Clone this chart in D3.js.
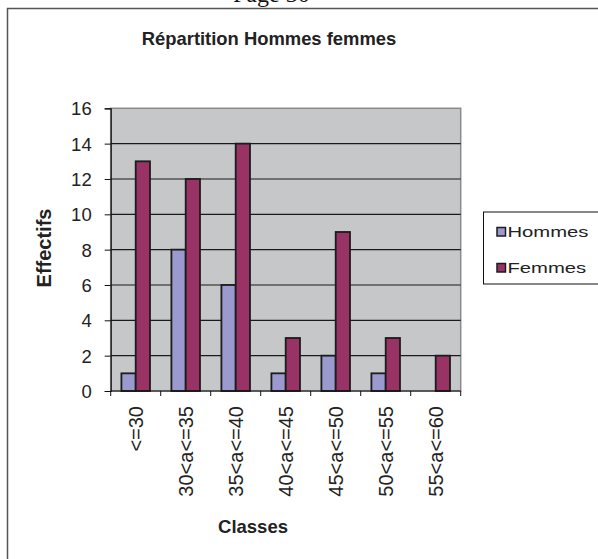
<!DOCTYPE html>
<html>
<head>
<meta charset="utf-8">
<script src="https://cdn.jsdelivr.net/npm/d3@7"></script>
<style>
  body { margin: 0; background: white; }
  svg { display: block; font-family: Arial, "Liberation Sans", sans-serif; }
</style>
</head>
<body>
<div id="chart"></div>
<script>
let classes = ["<=30", "30<a<=35", "35<a<=40", "40<a<=45", "45<a<=50", "50<a<=55", "55<a<=60"];
let seriesNames = ["Hommes", "Femmes"];
let hommes = [1, 8, 6, 1, 2, 1, 0];
let femmes = [13, 12, 14, 3, 9, 3, 2];
let yTicks = [0, 2, 4, 6, 8, 10, 12, 14, 16];
let seriesColors = ["#9a9acf", "#993366"];

function drawChart() {
  let plot = {left: 110.7, right: 460.7, top: 108.3, bottom: 391};

  let svg = d3.select("#chart")
    .append("svg")
    .attr("width", 598)
    .attr("height", 559);

  // page header, cut off at the top like in the scan
  svg.append("text")
    .attr("x", 233)
    .attr("y", 2)
    .attr("font-family", "'Liberation Serif', 'Times New Roman', serif")
    .attr("font-size", 24)
    .attr("fill", "#111")
    .text("Page 30");

  // chart frame
  svg.append("rect")
    .attr("x", 7.5).attr("y", 8.5)
    .attr("width", 700).attr("height", 700)
    .attr("fill", "white")
    .attr("stroke", "#555")
    .attr("stroke-width", 1.5);

  svg.append("text")
    .attr("x", 269)
    .attr("y", 45)
    .attr("text-anchor", "middle")
    .attr("font-size", 18.4)
    .attr("font-weight", "bold")
    .attr("fill", "#222")
    .text("Répartition Hommes femmes");

  let xScale = d3.scaleBand()
    .domain(classes)
    .range([plot.left, plot.right])
    .padding(0);

  let xInner = d3.scaleBand()
    .domain(seriesNames)
    .range([0, xScale.bandwidth()])
    .paddingInner(0)
    .paddingOuter(0.75);

  let yScale = d3.scaleLinear()
    .domain([0, 16])
    .range([plot.bottom, plot.top]);

  let colorScale = d3.scaleOrdinal()
    .domain(seriesNames)
    .range(seriesColors);

  // plot area
  svg.append("rect")
    .attr("x", plot.left).attr("y", plot.top)
    .attr("width", plot.right - plot.left)
    .attr("height", plot.bottom - plot.top)
    .attr("fill", "#c6c7c9")
    .attr("stroke", "#8a8a8a")
    .attr("stroke-width", 1.5);

  svg.append("g")
    .selectAll("line")
    .data(yTicks.filter(t => t > 0 && t < 16))
    .enter()
    .append("line")
    .attr("x1", plot.left).attr("x2", plot.right)
    .attr("y1", d => yScale(d)).attr("y2", d => yScale(d))
    .attr("stroke", "#1a1a1a")
    .attr("stroke-width", 1.2);

  let tableData = classes.map((c, i) => ({classe: c, values: [hommes[i], femmes[i]]}));

  let groups = svg.append("g")
    .selectAll("g")
    .data(tableData)
    .enter()
    .append("g")
    .attr("transform", d => "translate(" + xScale(d.classe) + ",0)");

  groups.selectAll("rect")
    .data(d => d.values.map((v, i) => ({name: seriesNames[i], value: v})).filter(d => d.value > 0))
    .enter()
    .append("rect")
    .attr("x", d => xInner(d.name))
    .attr("y", d => yScale(d.value))
    .attr("width", xInner.bandwidth())
    .attr("height", d => yScale(0) - yScale(d.value))
    .attr("fill", d => colorScale(d.name))
    .attr("stroke", "#1c1c1c")
    .attr("stroke-width", 1.8);

  // y axis
  let yAxis = svg.append("g")
    .attr("transform", "translate(" + plot.left + ",0)")
    .call(d3.axisLeft(yScale).tickValues(yTicks).tickSize(6).tickPadding(13));
  yAxis.select(".domain").attr("stroke", "#111").attr("stroke-width", 1.2);
  yAxis.selectAll(".tick line").attr("stroke", "#111");
  yAxis.selectAll(".tick text")
    .attr("font-size", 18.5)
    .attr("font-family", "Arial, 'Liberation Sans', sans-serif")
    .attr("fill", "#222")
    .attr("dy", "0.36em");

  // x axis: ticks at category boundaries
  let xAxis = svg.append("g")
    .attr("transform", "translate(0," + plot.bottom + ")");
  xAxis.append("line")
    .attr("x1", plot.left).attr("x2", plot.right)
    .attr("stroke", "#111").attr("stroke-width", 1.2);
  xAxis.selectAll(".bound")
    .data(classes.concat(["end"]))
    .enter()
    .append("line")
    .attr("class", "bound")
    .attr("x1", (d, i) => plot.left + i * xScale.step())
    .attr("x2", (d, i) => plot.left + i * xScale.step())
    .attr("y1", 0).attr("y2", 5)
    .attr("stroke", "#111");
  xAxis.selectAll("text")
    .data(classes)
    .enter()
    .append("text")
    .attr("transform", d => "translate(" + (xScale(d) + xScale.bandwidth() / 2) + ",15) rotate(-90)")
    .attr("text-anchor", "end")
    .attr("dy", "0.35em")
    .attr("font-size", 20)
    .attr("fill", "#222")
    .text(d => d);

  // axis titles
  svg.append("text")
    .attr("transform", "translate(51,248) rotate(-90)")
    .attr("text-anchor", "middle")
    .attr("font-size", 20)
    .attr("font-weight", "bold")
    .attr("fill", "#222")
    .text("Effectifs");

  svg.append("text")
    .attr("x", 253)
    .attr("y", 533)
    .attr("text-anchor", "middle")
    .attr("font-size", 18.5)
    .attr("font-weight", "bold")
    .attr("fill", "#222")
    .text("Classes");

  // legend
  let legend = svg.append("g").attr("transform", "translate(483,211.5)");
  legend.append("rect")
    .attr("x", 0.5).attr("y", 0.5)
    .attr("width", 115).attr("height", 72)
    .attr("fill", "white")
    .attr("stroke", "#111");

  let items = legend.selectAll(".item")
    .data(seriesNames)
    .enter()
    .append("g")
    .attr("class", "item")
    .attr("transform", (d, i) => "translate(14," + (20 + i * 36) + ")");
  items.append("rect")
    .attr("x", 0).attr("y", -4)
    .attr("width", 8.5).attr("height", 8.5)
    .attr("fill", d => colorScale(d))
    .attr("stroke", "#1c1c1c")
    .attr("stroke-width", 1.5);
  items.append("text")
    .attr("transform", "translate(10.5,5.5) scale(1.35,1)")
    .attr("font-size", 15)
    .attr("fill", "#222")
    .text(d => d);
}

drawChart();
</script>
</body>
</html>
